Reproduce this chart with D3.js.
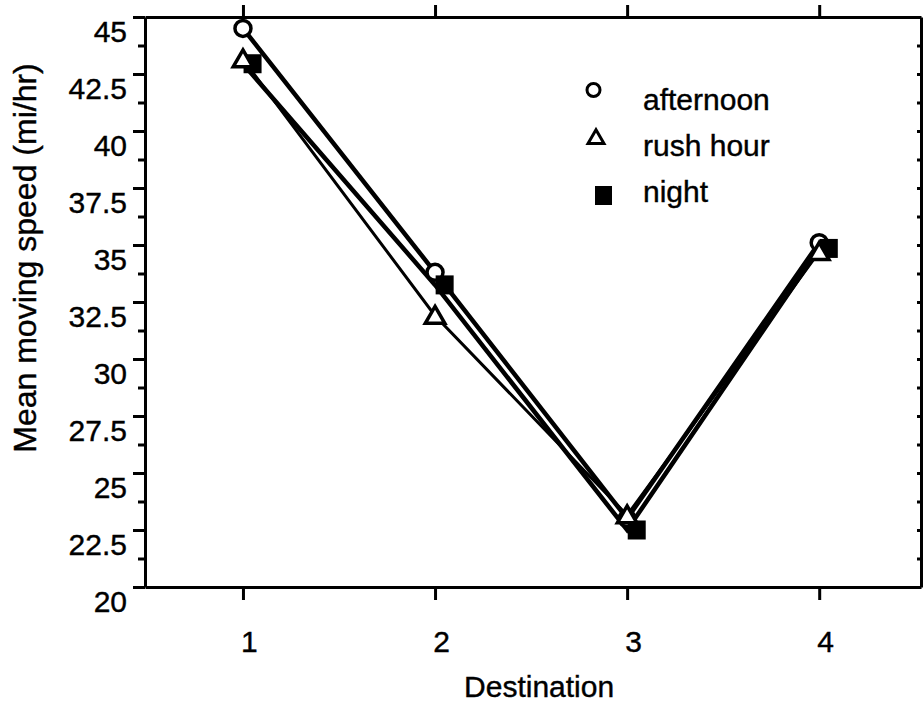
<!DOCTYPE html>
<html>
<head>
<meta charset="utf-8">
<script src="https://cdn.jsdelivr.net/npm/d3@7"></script>
<style>
  body { margin: 0; background: #fff; }
  text { font-family: "Liberation Sans", Arial, Helvetica, sans-serif; fill: #000; stroke: #000; stroke-width: 0.4px; }
</style>
</head>
<body>
<script>
const width = 923;
const height = 707;

// data
const destinations = [1, 2, 3, 4];
const afternoon = [44.5, 33.8, 23.0, 35.1];
const rushHour = [43.15, 31.9, 23.15, 34.7];
const night = [42.95, 33.25, 22.5, 34.85];
const seriesNames = ["afternoon", "rush hour", "night"];
const yTicks = [20, 22.5, 25, 27.5, 30, 32.5, 35, 37.5, 40, 42.5, 45];
const yMinorTicks = [21.25, 23.75, 26.25, 28.75, 31.25, 33.75, 36.25, 38.75, 41.25, 43.75];
const nightShift = 0.05; // night markers drawn slightly to the right

const plotLeft = 145, plotRight = 921, plotTop = 17, plotBottom = 587;

const svg = d3.select("body")
    .append("svg")
    .attr("width", width)
    .attr("height", height);

const x = d3.scaleLinear().domain([0.49, 4.53]).range([plotLeft, plotRight]);
const y = d3.scaleLinear().domain([20, 45]).range([plotBottom, plotTop]);

const fmt = d => (d % 1 ? d.toFixed(1) : d);

// left axis, major ticks with labels
const gLeft = svg.append("g")
    .attr("transform", `translate(${plotLeft},0)`)
    .call(d3.axisLeft(y).tickValues(yTicks).tickFormat(fmt).tickSizeInner(12).tickSizeOuter(0).tickPadding(6));
gLeft.selectAll("text").attr("font-size", 30).attr("dy", "0.8em");

// left minor ticks
svg.append("g")
    .attr("transform", `translate(${plotLeft},0)`)
    .call(d3.axisLeft(y).tickValues(yMinorTicks).tickFormat("").tickSizeInner(7).tickSizeOuter(0))
    .call(g => g.select(".domain").remove());

// right axis, short inward ticks
svg.append("g")
    .attr("transform", `translate(${plotRight},0)`)
    .call(d3.axisRight(y).tickValues(yTicks.concat(yMinorTicks)).tickFormat("").tickSizeInner(-4).tickSizeOuter(0));

// bottom axis
const gBottom = svg.append("g")
    .attr("transform", `translate(0,${plotBottom})`)
    .call(d3.axisBottom(x).tickValues(destinations).tickFormat(d3.format("d")).tickSizeInner(13).tickSizeOuter(0));
gBottom.selectAll("text").attr("font-size", 30).attr("y", 65).attr("dy", 0).attr("dx", 6);

// top axis
svg.append("g")
    .attr("transform", `translate(0,${plotTop})`)
    .call(d3.axisTop(x).tickValues(destinations).tickFormat("").tickSizeInner(12).tickSizeOuter(0));

svg.selectAll(".domain").attr("stroke-width", 3).attr("stroke", "#000");
svg.selectAll(".tick line").attr("stroke-width", 3).attr("stroke", "#000");

// axis titles
svg.append("text")
    .attr("x", x(2.5) + 8)
    .attr("y", 697)
    .attr("text-anchor", "middle")
    .attr("font-size", 30)
    .text("Destination");

svg.append("text")
    .attr("transform", `translate(36,258) rotate(-90)`)
    .attr("text-anchor", "middle")
    .attr("font-size", 32)
    .text("Mean moving speed (mi/hr)");

// lines
const line = vals => d3.line()
    .x((d, i) => x(destinations[i]))
    .y(d => y(d))(vals);

svg.append("path").attr("d", line(rushHour))
    .attr("fill", "none").attr("stroke", "#000").attr("stroke-width", 3);
svg.append("path").attr("d", line(afternoon))
    .attr("fill", "none").attr("stroke", "#000").attr("stroke-width", 4.5);
svg.append("path").attr("d", line(night))
    .attr("fill", "none").attr("stroke", "#000").attr("stroke-width", 4.5);

// markers
const triangle = d3.symbol().type(d3.symbolTriangle).size(165);

svg.selectAll(".pt-afternoon")
    .data(afternoon)
    .enter()
    .append("circle")
    .attr("class", "pt-afternoon")
    .attr("cx", (d, i) => x(destinations[i]))
    .attr("cy", d => y(d))
    .attr("r", 8)
    .attr("fill", "#fff")
    .attr("stroke", "#000")
    .attr("stroke-width", 3.5);

svg.selectAll(".pt-night")
    .data(night)
    .enter()
    .append("rect")
    .attr("class", "pt-night")
    .attr("x", (d, i) => x(destinations[i] + nightShift) - 9)
    .attr("y", d => y(d) - 9.5)
    .attr("width", 18)
    .attr("height", 19)
    .attr("fill", "#000");

svg.selectAll(".pt-rush")
    .data(rushHour)
    .enter()
    .append("path")
    .attr("class", "pt-rush")
    .attr("d", triangle)
    .attr("transform", (d, i) => `translate(${x(destinations[i])},${y(d) + 2})`)
    .attr("fill", "#fff")
    .attr("stroke", "#000")
    .attr("stroke-width", 3.5);

// legend
const legend = svg.append("g");
const legendY = [110, 156, 202];

legend.selectAll("text")
    .data(seriesNames)
    .enter()
    .append("text")
    .attr("x", 643)
    .attr("y", (d, i) => legendY[i])
    .attr("font-size", 30)
    .text(d => d);

legend.append("circle")
    .attr("cx", 593.5).attr("cy", 90).attr("r", 6.5)
    .attr("fill", "#fff").attr("stroke", "#000").attr("stroke-width", 3);
legend.append("path")
    .attr("d", d3.symbol().type(d3.symbolTriangle).size(110))
    .attr("transform", "translate(596,139)")
    .attr("fill", "#fff").attr("stroke", "#000").attr("stroke-width", 3);
legend.append("rect")
    .attr("x", 595).attr("y", 186).attr("width", 17).attr("height", 19)
    .attr("fill", "#000");
</script>
</body>
</html>
